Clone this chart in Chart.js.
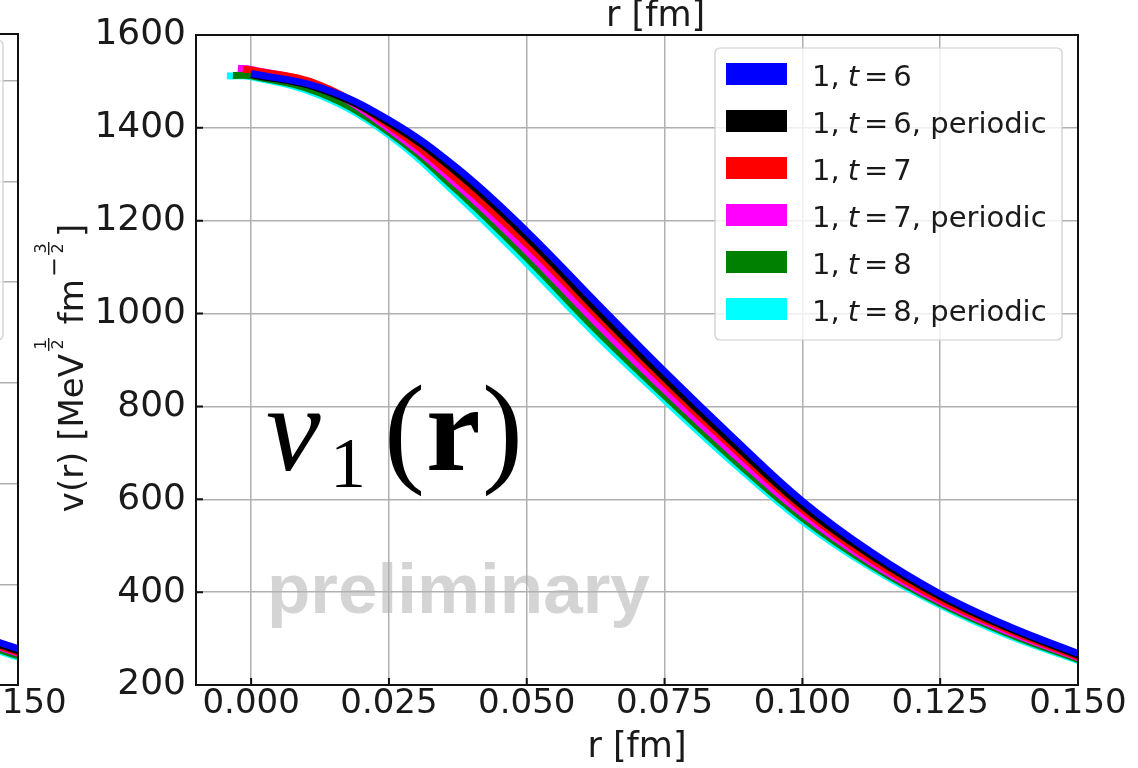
<!DOCTYPE html>
<html>
<head>
<meta charset="utf-8">
<script src="https://cdn.jsdelivr.net/npm/chart.js@4.4.0/dist/chart.umd.min.js"></script>
<style>
  html, body { margin: 0; padding: 0; background: #fff; overflow: hidden; }
  #wrap { position: relative; width: 1138px; height: 768px; overflow: hidden; background: #fff; }
  #left { position: absolute; left: -1060px; top: 0; }
  #main { position: absolute; left: 0; top: 0; }
</style>
</head>
<body>
<div id="wrap">
  <canvas id="left" width="1138" height="768"></canvas>
  <canvas id="main" width="1138" height="768"></canvas>
</div>
<script>
// r grid (fm) shared by all curves
const rGrid = [0, 0.0125, 0.025, 0.0375, 0.05, 0.0625, 0.075, 0.0875, 0.1, 0.1125, 0.125, 0.1375, 0.15]

// first point of each curve (some start slightly below r = 0)
const rStart = [0, 0, -0.0015, -0.0024, -0.0033, -0.0044]
const vStart = [1517, 1515, 1526, 1528, 1513, 1512]

// v(r) on rGrid
const vT6  = [1517, 1487, 1417, 1312, 1177, 1025, 875, 732, 596, 486, 396, 326, 268]
const vT6p = [1515, 1484, 1411, 1302, 1165, 1010, 861, 720, 586, 479, 391, 322, 264]
const vT7  = [1525, 1492, 1405, 1287, 1150, 998, 850, 710, 578, 470, 384, 318, 261]
const vT7p = [1526, 1489, 1398, 1276, 1135, 982, 836, 698, 569, 464, 380, 314, 259]
const vT8  = [1512, 1475, 1391, 1264, 1120, 966, 823, 686, 560, 458, 376, 310, 255]
const vT8p = [1510, 1470, 1385, 1254, 1108, 955, 814, 678, 553, 453, 372, 306, 253]

const seriesLabels = ['1, t = 6', '1, t = 6, periodic', '1, t = 7', '1, t = 7, periodic', '1, t = 8', '1, t = 8, periodic']
const seriesColors = ['#0000ff', '#000000', '#ff0000', '#ff00ff', '#008000', '#00ffff']

const xTicks = [0, 0.025, 0.05, 0.075, 0.1, 0.125, 0.15]
const yTicks = [200, 400, 600, 800, 1000, 1200, 1400, 1600]

// panel on the left, only its right end is on screen
const rLeft = [0.125, 0.1375, 0.15]
const vLeftT6  = [388, 320, 272]
const vLeftT6p = [384, 316, 268]
const vLeftT7  = [381, 313, 265]
const vLeftT7p = [379, 311, 263]
const vLeftT8  = [374, 306, 258]
const vLeftT8p = [371, 303, 255]
const yTicksLeft = [200, 400, 600, 800, 1000, 1200, 1400]

const FONT = 'DejaVu Sans'
const INK = '#1a1a1a'

function makePoints(rs, vs, r0, v0) {
    const pts = []
    if (r0 !== undefined) pts.push({x: r0, y: v0})
    for (let c = 0; c < rs.length; c++) {
        if (r0 === undefined || rs[c] > r0) pts.push({x: rs[c], y: vs[c]})
    }
    return pts
}

function buildDatasets(rs, values, useStart) {
    return values.map((vs, i) => ({
        label: seriesLabels[i],
        data: useStart ? makePoints(rs, vs, rStart[i], vStart[i]) : makePoints(rs, vs),
        borderColor: seriesColors[i],
        backgroundColor: seriesColors[i],
        borderWidth: 7,
        borderCapStyle: 'butt',
        pointRadius: 0,
        fill: false,
        tension: 0.4,
        clip: 0
    }))
}

function scalesFor(yMin, yMax, yTickList) {
    return {
        x: {
            type: 'linear',
            min: -0.01,
            max: 0.15,
            afterBuildTicks: (scale) => { scale.ticks = xTicks.map(v => ({value: v})) },
            afterFit: (scale) => { scale.height = 83 },
            grid: { color: '#b0b0b0', lineWidth: 1.5, drawTicks: false },
            border: { display: false },
            ticks: {
                padding: 0,
                maxRotation: 0,
                autoSkip: false,
                color: INK,
                font: { family: FONT, size: 34, lineHeight: 1.1 },
                callback: (v) => Number(v).toFixed(3)
            },
            title: {
                display: true,
                text: 'r [fm]',
                color: INK,
                font: { family: FONT, size: 35, lineHeight: 1.0 },
                padding: { top: 0, bottom: 3 }
            }
        },
        y: {
            min: yMin,
            max: yMax,
            afterBuildTicks: (scale) => { scale.ticks = yTickList.map(v => ({value: v})) },
            afterFit: (scale) => { scale.width = 196 },
            grid: { color: '#b0b0b0', lineWidth: 1.5, drawTicks: false },
            border: { display: false },
            ticks: {
                padding: 10,
                autoSkip: false,
                color: INK,
                font: { family: FONT, size: 36 },
                callback: (v) => String(v)
            }
        }
    }
}

// axes frame with inward tick marks
function drawFrame(chart, tickList) {
    const ctx = chart.ctx
    const a = chart.chartArea
    ctx.save()
    ctx.strokeStyle = '#111'
    ctx.lineWidth = 2
    ctx.strokeRect(a.left, a.top, a.right - a.left, a.bottom - a.top)
    ctx.beginPath()
    xTicks.forEach(v => {
        const px = chart.scales.x.getPixelForValue(v)
        ctx.moveTo(px, a.bottom)
        ctx.lineTo(px, a.bottom - 7)
    })
    tickList.forEach(v => {
        const py = chart.scales.y.getPixelForValue(v)
        ctx.moveTo(a.left, py)
        ctx.lineTo(a.left + 7, py)
    })
    ctx.stroke()
    ctx.restore()
}

function roundRectPath(ctx, x, y, w, h, r) {
    ctx.beginPath()
    ctx.moveTo(x + r, y)
    ctx.arcTo(x + w, y, x + w, y + h, r)
    ctx.arcTo(x + w, y + h, x, y + h, r)
    ctx.arcTo(x, y + h, x, y, r)
    ctx.arcTo(x, y, x + w, y, r)
    ctx.closePath()
}

// "1, t = 6, periodic" with an italic t
function drawMathLabel(ctx, text, x, y) {
    const m = text.match(/^(.*?)t = (\d)(.*)$/)
    const head = m[1].trim()
    ctx.font = '29px "' + FONT + '"'
    ctx.fillText(head, x, y)
    x += ctx.measureText(head).width + 8
    ctx.font = 'italic 29px "' + FONT + '"'
    ctx.fillText('t', x, y)
    x += ctx.measureText('t').width + 5
    ctx.font = '29px "' + FONT + '"'
    ctx.fillText('=', x, y)
    x += ctx.measureText('=').width + 5
    ctx.fillText(m[2] + m[3], x, y)
}

function drawLegend(chart) {
    const ctx = chart.ctx
    ctx.save()
    roundRectPath(ctx, 715, 48, 347, 292, 5)
    ctx.fillStyle = 'rgba(255,255,255,0.8)'
    ctx.fill()
    ctx.strokeStyle = '#cccccc'
    ctx.lineWidth = 1.2
    ctx.stroke()
    ctx.textBaseline = 'alphabetic'
    chart.data.datasets.forEach((ds, i) => {
        const cy = 74 + i * 47
        ctx.fillStyle = ds.borderColor
        ctx.fillRect(726, cy - 11, 61, 22)
        ctx.fillStyle = INK
        drawMathLabel(ctx, ds.label, 812, cy + 12)
    })
    ctx.restore()
}

// small stacked fraction used in the unit label
function drawFrac(ctx, num, den, x, w) {
    ctx.font = '16px "' + FONT + '"'
    ctx.textAlign = 'center'
    ctx.fillText(num, x + w / 2, -37)
    ctx.fillText(den, x + w / 2, -20)
    ctx.fillRect(x + 1, -35, w - 2, 1.4)
    ctx.textAlign = 'left'
}

function drawYTitle(ctx) {
    const big = '34px "' + FONT + '"'
    const minus = '24px "' + FONT + '"'
    const wFrac = 15
    ctx.save()
    ctx.translate(83, 368)
    ctx.rotate(-Math.PI / 2)
    ctx.fillStyle = INK
    ctx.textBaseline = 'alphabetic'
    ctx.font = big
    const w1 = ctx.measureText('v(r) [MeV').width
    const wFm = ctx.measureText('fm').width
    const wSp = ctx.measureText(' ').width
    const wB = ctx.measureText(']').width
    ctx.font = minus
    const wMinus = ctx.measureText('\u2212').width
    const total = w1 + 2 + wFrac + 2 + wSp + wFm + 2 + wMinus + 1 + wFrac + 4 + wB
    let x = -total / 2
    ctx.font = big
    ctx.fillText('v(r) [MeV', x, 0)
    x += w1 + 2
    drawFrac(ctx, '1', '2', x, wFrac)
    x += wFrac + 2 + wSp
    ctx.font = big
    ctx.fillText('fm', x, 0)
    x += wFm + 2
    ctx.font = minus
    ctx.fillText('\u2212', x, -21)
    x += wMinus + 1
    drawFrac(ctx, '3', '2', x, wFrac)
    x += wFrac + 4
    ctx.font = big
    ctx.fillText(']', x, 0)
    ctx.restore()
}

function drawFormula(ctx) {
    ctx.save()
    ctx.fillStyle = '#000'
    ctx.textBaseline = 'alphabetic'
    ctx.font = 'italic 123px "Liberation Serif"'
    ctx.fillText('v', 266, 470)
    ctx.font = '72px "Liberation Serif"'
    ctx.fillText('1', 330, 487)
    ctx.font = '123px "Liberation Serif"'
    ctx.fillText('(', 384, 470)
    ctx.font = 'bold 123px "Liberation Serif"'
    ctx.fillText('r', 426, 470)
    ctx.font = '123px "Liberation Serif"'
    ctx.fillText(')', 482, 470)
    ctx.restore()
}

const decorMain = {
    id: 'decorMain',
    beforeDraw(chart) {
        const ctx = chart.ctx
        ctx.save()
        ctx.fillStyle = '#d4d4d4'
        ctx.font = 'bold 71px "Liberation Sans"'
        ctx.textBaseline = 'alphabetic'
        ctx.fillText('preliminary', 267, 613)
        ctx.restore()
    },
    afterDatasetsDraw(chart) {
        drawFrame(chart, yTicks)
    },
    afterDraw(chart) {
        const ctx = chart.ctx
        drawLegend(chart)
        drawFormula(ctx)
        drawYTitle(ctx)
        // x label of the panel above
        ctx.save()
        ctx.fillStyle = INK
        ctx.font = '35px "' + FONT + '"'
        ctx.textBaseline = 'alphabetic'
        ctx.fillText('r [fm]', 606, 26)
        ctx.restore()
    }
}

const decorLeft = {
    id: 'decorLeft',
    afterDatasetsDraw(chart) {
        drawFrame(chart, yTicksLeft)
    },
    afterDraw(chart) {
        const ctx = chart.ctx
        ctx.save()
        roundRectPath(ctx, 716, 40, 347, 300, 5)
        ctx.fillStyle = 'rgba(255,255,255,0.8)'
        ctx.fill()
        ctx.strokeStyle = '#cccccc'
        ctx.lineWidth = 1.2
        ctx.stroke()
        ctx.restore()
    }
}

new Chart(document.getElementById('left').getContext('2d'), {
    type: 'line',
    data: { datasets: buildDatasets(rLeft, [vLeftT6, vLeftT6p, vLeftT7, vLeftT7p, vLeftT8, vLeftT8p], false) },
    options: {
        responsive: false,
        animation: false,
        events: [],
        layout: { padding: { top: 34, right: 60, left: 0, bottom: 0 } },
        plugins: { legend: { display: false }, tooltip: { enabled: false } },
        scales: scalesFor(200, 1493, yTicksLeft)
    },
    plugins: [decorLeft]
})

new Chart(document.getElementById('main').getContext('2d'), {
    type: 'line',
    data: { datasets: buildDatasets(rGrid, [vT6, vT6p, vT7, vT7p, vT8, vT8p], true) },
    options: {
        responsive: false,
        animation: false,
        events: [],
        layout: { padding: { top: 35, right: 60, left: 0, bottom: 0 } },
        plugins: { legend: { display: false }, tooltip: { enabled: false } },
        scales: scalesFor(200, 1600, yTicks)
    },
    plugins: [decorMain]
})
</script>
</body>
</html>
